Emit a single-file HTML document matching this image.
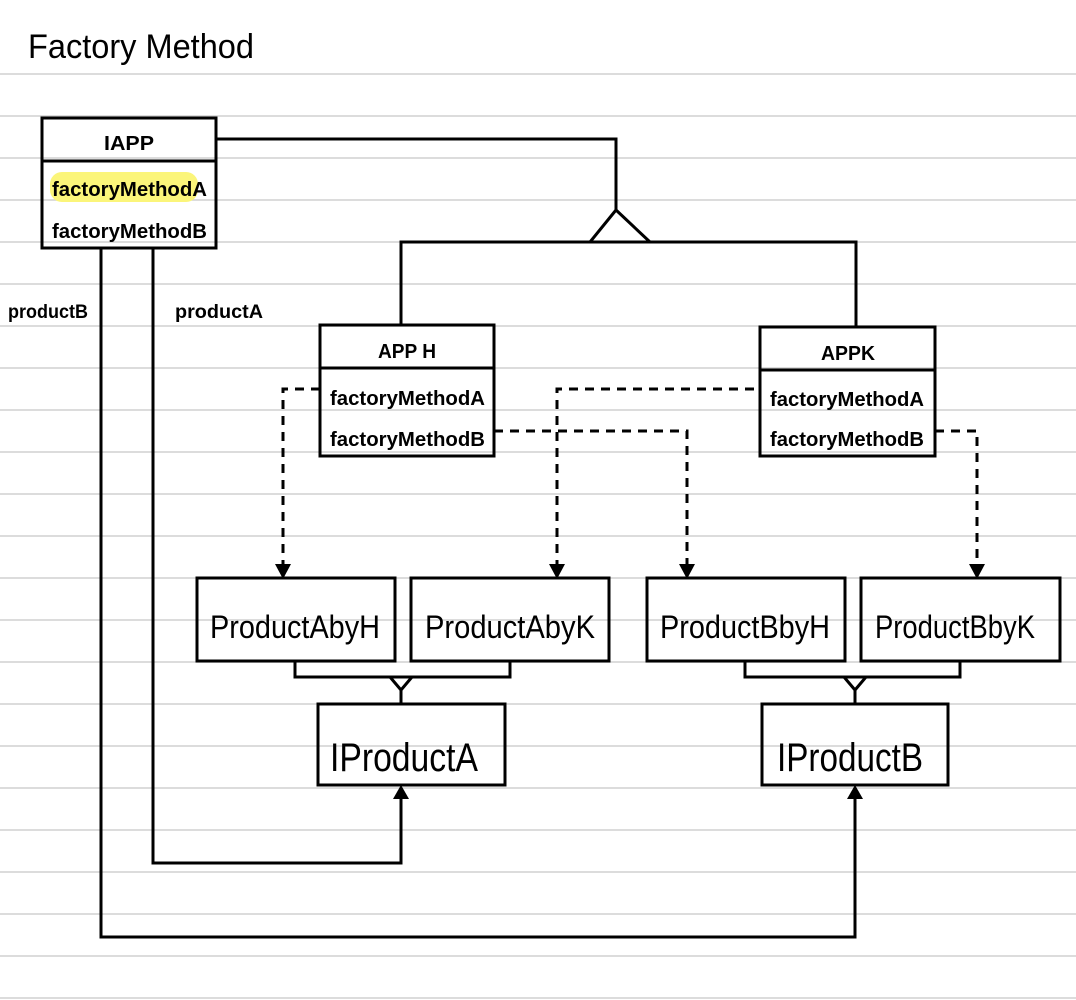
<!DOCTYPE html>
<html><head><meta charset="utf-8"><style>
html,body{margin:0;padding:0;background:#fff;}
svg{display:block;}
text{font-family:"Liberation Sans",sans-serif;fill:#000;}
</style></head><body>
<svg width="1076" height="1000" viewBox="0 0 1076 1000" xmlns="http://www.w3.org/2000/svg">
<g stroke="#d0d0d0" stroke-width="1.5">
<line x1="0" y1="74" x2="1076" y2="74"/><line x1="0" y1="116" x2="1076" y2="116"/><line x1="0" y1="158" x2="1076" y2="158"/><line x1="0" y1="200" x2="1076" y2="200"/><line x1="0" y1="242" x2="1076" y2="242"/><line x1="0" y1="284" x2="1076" y2="284"/><line x1="0" y1="326" x2="1076" y2="326"/><line x1="0" y1="368" x2="1076" y2="368"/><line x1="0" y1="410" x2="1076" y2="410"/><line x1="0" y1="452" x2="1076" y2="452"/><line x1="0" y1="494" x2="1076" y2="494"/><line x1="0" y1="536" x2="1076" y2="536"/><line x1="0" y1="578" x2="1076" y2="578"/><line x1="0" y1="620" x2="1076" y2="620"/><line x1="0" y1="662" x2="1076" y2="662"/><line x1="0" y1="704" x2="1076" y2="704"/><line x1="0" y1="746" x2="1076" y2="746"/><line x1="0" y1="788" x2="1076" y2="788"/><line x1="0" y1="830" x2="1076" y2="830"/><line x1="0" y1="872" x2="1076" y2="872"/><line x1="0" y1="914" x2="1076" y2="914"/><line x1="0" y1="956" x2="1076" y2="956"/><line x1="0" y1="998" x2="1076" y2="998"/>
</g>
<text x="28" y="58" font-size="34" textLength="226" lengthAdjust="spacingAndGlyphs">Factory   Method</text>
<rect x="50" y="172" width="148" height="30" rx="12" fill="#fbf57a"/>
<g fill="none" stroke="#000" stroke-width="3">
<rect x="42" y="118" width="174" height="130" fill="none"/>
<line x1="42" y1="161" x2="216" y2="161"/>
<rect x="320" y="325" width="174" height="131"/>
<line x1="320" y1="368" x2="494" y2="368"/>
<rect x="760" y="327" width="175" height="129"/>
<line x1="760" y1="370" x2="935" y2="370"/>
<polyline points="216,139 616,139 616,210"/>
<polygon points="616,210 590,242 650,242"/>
<polyline points="401,325 401,242 856,242 856,327"/>
<rect x="197" y="578" width="198" height="83"/>
<rect x="411" y="578" width="198" height="83"/>
<rect x="647" y="578" width="198" height="83"/>
<rect x="861" y="578" width="199" height="83"/>
<rect x="318" y="704" width="187" height="81"/>
<rect x="762" y="704" width="186" height="81"/>
<polyline points="295,661 295,677 510,677 510,661"/>
<polyline points="390,677 401,690 412,677"/><line x1="401" y1="690" x2="401" y2="704"/>
<polyline points="745,661 745,677 960,677 960,661"/>
<polyline points="844,677 855,690 866,677"/><line x1="855" y1="690" x2="855" y2="704"/>
<polyline points="153,248 153,863 401,863 401,792"/>
<polyline points="101,248 101,937 855,937 855,792"/>
<g stroke-dasharray="9,7">
<polyline points="320,389 283,389 283,566"/>
<polyline points="754,389 557,389 557,566"/>
<polyline points="494,431 687,431 687,566"/>
<polyline points="935,431 977,431 977,566"/>
</g>
</g>
<g fill="#000">
<polygon points="275,564 291,564 283,579"/>
<polygon points="549,564 565,564 557,579"/>
<polygon points="679,564 695,564 687,579"/>
<polygon points="969,564 985,564 977,579"/>
<polygon points="393,799 409,799 401,785"/>
<polygon points="847,799 863,799 855,785"/>
</g>
<g font-size="20" font-weight="bold">
<text x="129" y="150" text-anchor="middle" textLength="50" lengthAdjust="spacingAndGlyphs">IAPP</text>
<text x="52" y="196" textLength="155" lengthAdjust="spacingAndGlyphs">factoryMethodA</text>
<text x="52" y="238" textLength="155" lengthAdjust="spacingAndGlyphs">factoryMethodB</text>
<text x="407" y="358" text-anchor="middle" textLength="58" lengthAdjust="spacingAndGlyphs">APP H</text>
<text x="330" y="405" textLength="155" lengthAdjust="spacingAndGlyphs">factoryMethodA</text>
<text x="330" y="446" textLength="155" lengthAdjust="spacingAndGlyphs">factoryMethodB</text>
<text x="848" y="360" text-anchor="middle" textLength="54" lengthAdjust="spacingAndGlyphs">APPK</text>
<text x="770" y="406" textLength="154" lengthAdjust="spacingAndGlyphs">factoryMethodA</text>
<text x="770" y="446" textLength="154" lengthAdjust="spacingAndGlyphs">factoryMethodB</text>
<text x="8" y="318" font-size="19" textLength="80" lengthAdjust="spacingAndGlyphs">productB</text>
<text x="175" y="318" font-size="19" textLength="88" lengthAdjust="spacingAndGlyphs">productA</text>
</g>
<g font-size="32">
<text x="210" y="638" textLength="170" lengthAdjust="spacingAndGlyphs">ProductAbyH</text>
<text x="425" y="638" textLength="170" lengthAdjust="spacingAndGlyphs">ProductAbyK</text>
<text x="660" y="638" textLength="170" lengthAdjust="spacingAndGlyphs">ProductBbyH</text>
<text x="875" y="638" textLength="160" lengthAdjust="spacingAndGlyphs">ProductBbyK</text>
</g>
<g font-size="40">
<text x="330" y="771" textLength="148" lengthAdjust="spacingAndGlyphs">IProductA</text>
<text x="777" y="771" textLength="146" lengthAdjust="spacingAndGlyphs">IProductB</text>
</g>
</svg>
</body></html>
